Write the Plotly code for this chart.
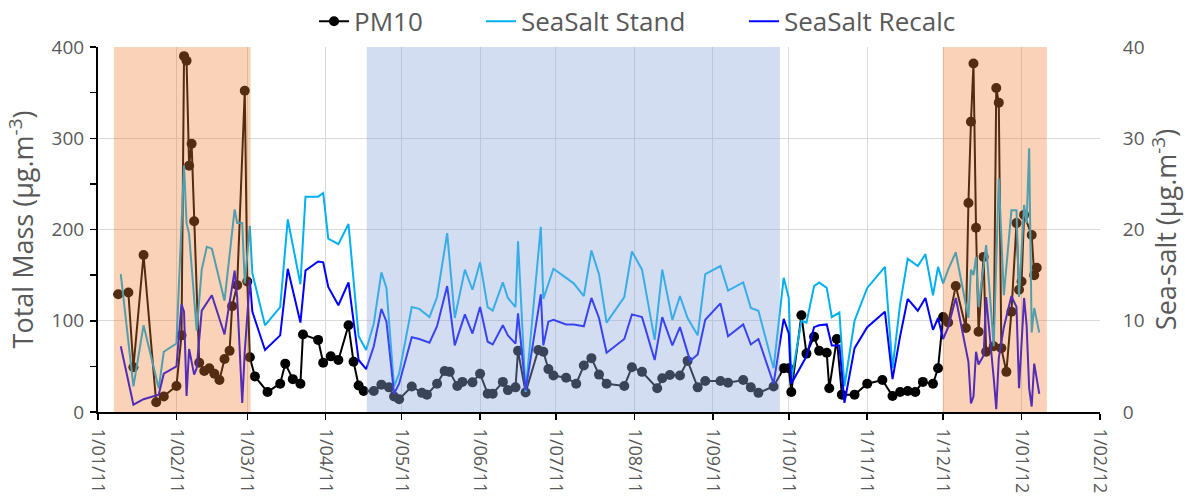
import plotly.graph_objects as go

# ---------------- data ----------------
pm10_dates = ["2011-01-09", "2011-01-13", "2011-01-15", "2011-01-19", "2011-01-24", "2011-01-27",
              "2011-02-01", "2011-02-03", "2011-02-04", "2011-02-05", "2011-02-06", "2011-02-07",
              "2011-02-08", "2011-02-10", "2011-02-12", "2011-02-14", "2011-02-16", "2011-02-18",
              "2011-02-20", "2011-02-22", "2011-02-23", "2011-02-25", "2011-02-28", "2011-03-01",
              "2011-03-02", "2011-03-04", "2011-03-09", "2011-03-14", "2011-03-16", "2011-03-19",
              "2011-03-22", "2011-03-23", "2011-03-29", "2011-03-31", "2011-04-03", "2011-04-06",
              "2011-04-10", "2011-04-12", "2011-04-14", "2011-04-16", "2011-04-20", "2011-04-23",
              "2011-04-26", "2011-04-28", "2011-04-30", "2011-05-05", "2011-05-09", "2011-05-11",
              "2011-05-15", "2011-05-18", "2011-05-20", "2011-05-23", "2011-05-25", "2011-05-29",
              "2011-06-01", "2011-06-04", "2011-06-06", "2011-06-10", "2011-06-12", "2011-06-15",
              "2011-06-16", "2011-06-19", "2011-06-24", "2011-06-26", "2011-06-28", "2011-06-30",
              "2011-07-05", "2011-07-09", "2011-07-12", "2011-07-15", "2011-07-18", "2011-07-21",
              "2011-07-28", "2011-07-31", "2011-08-04", "2011-08-10", "2011-08-12", "2011-08-15",
              "2011-08-19", "2011-08-22", "2011-08-26", "2011-08-29", "2011-09-04", "2011-09-07",
              "2011-09-13", "2011-09-16", "2011-09-19", "2011-09-25", "2011-09-29", "2011-10-01",
              "2011-10-02", "2011-10-06", "2011-10-08", "2011-10-11", "2011-10-13", "2011-10-16",
              "2011-10-17", "2011-10-20", "2011-10-22", "2011-10-27", "2011-11-01", "2011-11-07",
              "2011-11-11", "2011-11-14", "2011-11-17", "2011-11-20", "2011-11-23", "2011-11-27",
              "2011-11-29", "2011-12-01", "2011-12-03", "2011-12-06", "2011-12-10", "2011-12-11",
              "2011-12-12", "2011-12-13", "2011-12-14", "2011-12-15", "2011-12-17", "2011-12-18",
              "2011-12-21", "2011-12-22", "2011-12-23", "2011-12-24", "2011-12-26", "2011-12-28",
              "2011-12-30", "2011-12-31", "2012-01-01", "2012-01-02", "2012-01-05", "2012-01-06",
              "2012-01-07"]
pm10_values = [129, 131, 49, 172, 10.6, 17,
               28.5, 84, 390, 385, 270, 294,
               209, 54, 45, 48, 42, 35,
               58, 67, 116, 139, 352, 143,
               60, 39, 22, 31, 53, 36,
               31, 85, 79, 54, 61, 57,
               95, 55, 29, 23, 23, 30,
               27, 17, 14, 28, 21, 19,
               31, 45, 44, 28.5, 33, 32.5,
               42, 20, 20, 33, 24, 27,
               67, 21.5, 68, 66, 47, 40,
               37.6, 31, 51, 59, 41, 31,
               28.5, 49, 44, 26, 37, 40.5,
               40, 56, 27, 34, 34, 32,
               35, 27, 21, 28, 48, 48,
               22, 106, 64, 82.5, 67, 65,
               26, 80, 19, 19, 31, 35,
               17.5, 22, 23, 22, 33, 31,
               48, 104, 98, 138, 92, 229,
               318, 382, 202, 88, 170, 66,
               72, 355, 339, 70, 44, 110,
               207, 134, 143, 216, 194, 150,
               158]

stand_dates = ["2011-01-10", "2011-01-15", "2011-01-19", "2011-01-25", "2011-01-27", "2011-02-01",
               "2011-02-04", "2011-02-05", "2011-02-06", "2011-02-09", "2011-02-11", "2011-02-13",
               "2011-02-15", "2011-02-20", "2011-02-24", "2011-02-25", "2011-02-27", "2011-02-28",
               "2011-03-02", "2011-03-03", "2011-03-08", "2011-03-14", "2011-03-17", "2011-03-22",
               "2011-03-24", "2011-03-29", "2011-03-31", "2011-04-02", "2011-04-06", "2011-04-10",
               "2011-04-14", "2011-04-17", "2011-04-20", "2011-04-23", "2011-04-25", "2011-04-28",
               "2011-04-30", "2011-05-05", "2011-05-08", "2011-05-12", "2011-05-15", "2011-05-19",
               "2011-05-22", "2011-05-26", "2011-05-29", "2011-06-01", "2011-06-04", "2011-06-06",
               "2011-06-10", "2011-06-12", "2011-06-15", "2011-06-16", "2011-06-19", "2011-06-25",
               "2011-06-26", "2011-06-30", "2011-07-05", "2011-07-08", "2011-07-12", "2011-07-15",
               "2011-07-18", "2011-07-21", "2011-07-28", "2011-07-31", "2011-08-04", "2011-08-09",
               "2011-08-12", "2011-08-16", "2011-08-19", "2011-08-22", "2011-08-26", "2011-08-29",
               "2011-09-04", "2011-09-07", "2011-09-13", "2011-09-16", "2011-09-19", "2011-09-25",
               "2011-09-29", "2011-10-01", "2011-10-02", "2011-10-06", "2011-10-08", "2011-10-11",
               "2011-10-13", "2011-10-16", "2011-10-18", "2011-10-21", "2011-10-23", "2011-10-27",
               "2011-11-01", "2011-11-08", "2011-11-11", "2011-11-14", "2011-11-17", "2011-11-21",
               "2011-11-24", "2011-11-27", "2011-11-29", "2011-12-01", "2011-12-03", "2011-12-06",
               "2011-12-11", "2011-12-12", "2011-12-13", "2011-12-14", "2011-12-15", "2011-12-18",
               "2011-12-21", "2011-12-23", "2011-12-25", "2011-12-28", "2011-12-30", "2011-12-31",
               "2012-01-02", "2012-01-03", "2012-01-04", "2012-01-05", "2012-01-06", "2012-01-08"]
stand_values = [15.1, 2.8, 9.5, 2.6, 6.6, 7.5,
                27.0, 20.7, 19.5, 8.9, 15.6, 18.1,
                17.9, 12.2, 22.2, 20.7, 20.7, 14.1,
                20.4, 15.2, 9.5, 11.5, 21.1, 14.0,
                23.6, 23.6, 24.0, 19.0, 18.4, 20.6,
                8.3, 6.8, 9.7, 15.3, 13.6, 2.8,
                4.2, 11.5, 11.3, 10.4, 12.6, 19.6,
                10.3, 15.6, 13.4, 16.4, 11.5, 11.1,
                14.2, 12.5, 11.5, 18.7, 2.2, 20.3,
                12.4, 15.7, 14.7, 14.1, 12.7, 17.7,
                15.1, 9.8, 12.6, 17.6, 15.6, 7.9,
                15.6, 10.1, 12.7, 10.3, 8.4, 15.1,
                16.0, 13.3, 14.2, 11.4, 11.1, 4.8,
                14.7, 12.5, 3.5, 10.0, 9.8, 13.8,
                14.2, 13.6, 10.4, 10.9, 2.8, 10.0,
                13.6, 15.9, 4.8, 11.8, 16.8, 16.0,
                17.3, 12.8, 15.9, 14.1, 15.6, 17.5,
                10.3, 15.6, 15.0, 17.0, 11.5, 18.3,
                7.2, 25.6, 12.8, 22.1, 22.1, 12.6,
                22.7, 20.7, 28.9, 8.7, 11.4, 8.7]

recalc_dates = ["2011-01-10", "2011-01-15", "2011-01-19", "2011-01-25", "2011-01-27", "2011-02-01",
                "2011-02-03", "2011-02-04", "2011-02-05", "2011-02-06", "2011-02-08", "2011-02-09",
                "2011-02-11", "2011-02-15", "2011-02-20", "2011-02-24", "2011-02-25", "2011-02-27",
                "2011-02-28", "2011-03-02", "2011-03-03", "2011-03-08", "2011-03-14", "2011-03-17",
                "2011-03-22", "2011-03-24", "2011-03-29", "2011-03-31", "2011-04-02", "2011-04-06",
                "2011-04-10", "2011-04-14", "2011-04-17", "2011-04-20", "2011-04-23", "2011-04-25",
                "2011-04-28", "2011-04-30", "2011-05-05", "2011-05-08", "2011-05-12", "2011-05-15",
                "2011-05-19", "2011-05-22", "2011-05-26", "2011-05-29", "2011-06-01", "2011-06-04",
                "2011-06-06", "2011-06-10", "2011-06-12", "2011-06-15", "2011-06-16", "2011-06-19",
                "2011-06-25", "2011-06-26", "2011-06-28", "2011-06-30", "2011-07-05", "2011-07-08",
                "2011-07-12", "2011-07-15", "2011-07-18", "2011-07-21", "2011-07-28", "2011-07-31",
                "2011-08-04", "2011-08-09", "2011-08-12", "2011-08-16", "2011-08-19", "2011-08-23",
                "2011-08-26", "2011-08-29", "2011-09-04", "2011-09-07", "2011-09-13", "2011-09-16",
                "2011-09-19", "2011-09-25", "2011-09-29", "2011-10-01", "2011-10-02", "2011-10-08",
                "2011-10-11", "2011-10-13", "2011-10-16", "2011-10-18", "2011-10-21", "2011-10-23",
                "2011-10-27", "2011-11-01", "2011-11-08", "2011-11-11", "2011-11-14", "2011-11-17",
                "2011-11-21", "2011-11-24", "2011-11-27", "2011-11-29", "2011-12-01", "2011-12-03",
                "2011-12-06", "2011-12-11", "2011-12-12", "2011-12-13", "2011-12-14", "2011-12-15",
                "2011-12-17", "2011-12-18", "2011-12-21", "2011-12-22", "2011-12-23", "2011-12-25",
                "2011-12-28", "2011-12-30", "2011-12-31", "2012-01-02", "2012-01-03", "2012-01-04",
                "2012-01-05", "2012-01-06", "2012-01-08"]
recalc_values = [7.2, 0.8, 1.4, 1.9, 4.2, 5.0,
                 11.8, 11.0, 1.75, 6.9, 4.1, 4.8,
                 11.1, 12.8, 8.5, 15.5, 12.6, 1.0,
                 6.6, 14.5, 11.0, 6.8, 8.4, 15.7,
                 9.8, 15.5, 16.5, 16.4, 13.7, 11.7,
                 14.2, 5.7, 4.7, 7.2, 11.3, 9.9,
                 2.0, 3.1, 8.2, 8.0, 7.6, 9.4,
                 13.8, 7.3, 10.7, 8.6, 11.5, 7.7,
                 7.4, 9.5, 8.4, 7.5, 10.8, 2.4,
                 12.9, 7.3, 9.9, 10.1, 9.6, 9.6,
                 9.4, 12.5, 10.3, 6.5, 8.0, 10.7,
                 10.4, 5.7, 10.4, 7.3, 9.3, 5.6,
                 6.3, 10.1, 11.9, 8.3, 9.6, 7.4,
                 8.0, 3.1, 10.2, 8.6, 3.1, 6.1,
                 9.3, 9.5, 9.6, 7.3, 7.3, 1.0,
                 7.0, 9.3, 11.0, 3.6, 8.3, 12.4,
                 11.1, 12.5, 9.0, 10.3, 8.0, 9.3,
                 12.5, 5.5, 0.95, 1.7, 6.6, 5.2,
                 6.2, 12.6, 3.7, 0.3, 5.9, 9.3,
                 12.7, 11.5, 2.6, 12.5, 9.5, 2.6,
                 0.6, 5.3, 2.0]

# shaded periods
orange_periods = [("2011-01-07 06:00", "2011-03-02 08:00"), ("2011-11-30 20:00", "2012-01-11 00:00")]
blue_periods = [("2011-04-17 05:00", "2011-09-27 12:00")]

x_range = ["2011-01-01", "2012-02-01"]
left_range = [0, 400]
right_range = [0, 40]

# ---------------- figure ----------------
GREY = "#595959"
FONT = "Open Sans"

fig = go.Figure()
fig.add_trace(go.Scatter(x=pm10_dates, y=pm10_values, name="PM10", mode="lines+markers",
                         line=dict(color="black", width=2),
                         marker=dict(size=10, color="black"), legend="legend"))
fig.add_trace(go.Scatter(x=stand_dates, y=stand_values, name="SeaSalt Stand", mode="lines",
                         line=dict(color="#00B0F0", width=2), yaxis="y2", legend="legend2"))
fig.add_trace(go.Scatter(x=recalc_dates, y=recalc_values, name="SeaSalt Recalc", mode="lines",
                         line=dict(color="#0000FF", width=2), yaxis="y2", legend="legend3"))

shapes = []
for x0, x1 in orange_periods:
    shapes.append(dict(type="rect", xref="x", yref="paper", x0=x0, x1=x1, y0=0, y1=1,
                       fillcolor="#ED7D31", opacity=0.35, line=dict(width=0), layer="above"))
for x0, x1 in blue_periods:
    shapes.append(dict(type="rect", xref="x", yref="paper", x0=x0, x1=x1, y0=0, y1=1,
                       fillcolor="#8FAADC", opacity=0.4, line=dict(width=0), layer="above"))

legend_common = dict(orientation="h", y=1.006, yanchor="bottom",
                     font=dict(size=26, color=GREY), bgcolor="rgba(0,0,0,0)",
                     itemwidth=30, xanchor="left")

fig.update_layout(
    width=1185, height=499,
    margin=dict(l=98, r=85, t=47, b=87, autoexpand=False),
    paper_bgcolor="white", plot_bgcolor="white",
    font=dict(family=FONT, color=GREY, size=18),
    hovermode=False,
    shapes=shapes,
    showlegend=True,
    legend=dict(x=0.2156, **legend_common),
    legend2=dict(x=0.3822, **legend_common),
    legend3=dict(x=0.6447, **legend_common),
    xaxis=dict(type="date", range=x_range, tick0="2011-01-01", dtick="M1",
               tickformat="%-d/%m/%y", tickangle=90,
               showgrid=True, gridcolor="#D9D9D9", gridwidth=1,
               showline=True, linecolor="black", linewidth=2,
               ticks="outside", ticklen=6, tickcolor="black", tickwidth=1.5,
               ticklabelstandoff=5,
               tickfont=dict(size=18, color=GREY), zeroline=False),
    yaxis=dict(range=left_range, dtick=100, tick0=0,
               showgrid=True, gridcolor="#D9D9D9", gridwidth=1,
               showline=True, linecolor="black", linewidth=2,
               ticks="outside", ticklen=6, tickcolor="black", tickwidth=1.5,
               minor=dict(dtick=50, ticks="outside", ticklen=6, tickcolor="black",
                          tickwidth=1.5, showgrid=False),
               ticklabelstandoff=2,
               tickfont=dict(size=19, color=GREY), zeroline=False,
               title=dict(text="Total Mass (µg.m<sup>-3</sup>)", font=dict(size=27, color=GREY),
                          standoff=10)),
    yaxis2=dict(range=right_range, dtick=10, tick0=0, overlaying="y", side="right",
                showgrid=False, showline=False, zeroline=False,
                ticks="outside", ticklen=18, tickcolor="rgba(0,0,0,0)",
                tickfont=dict(size=19, color=GREY),
                title=dict(text="Sea-salt (µg.m<sup>-3</sup>)", font=dict(size=27, color=GREY),
                           standoff=13)),
)

fig.write_html("out.html",
               config={"displayModeBar": False, "staticPlot": True},
               post_script="document.body.style.margin='0';document.body.style.overflow='hidden';")
